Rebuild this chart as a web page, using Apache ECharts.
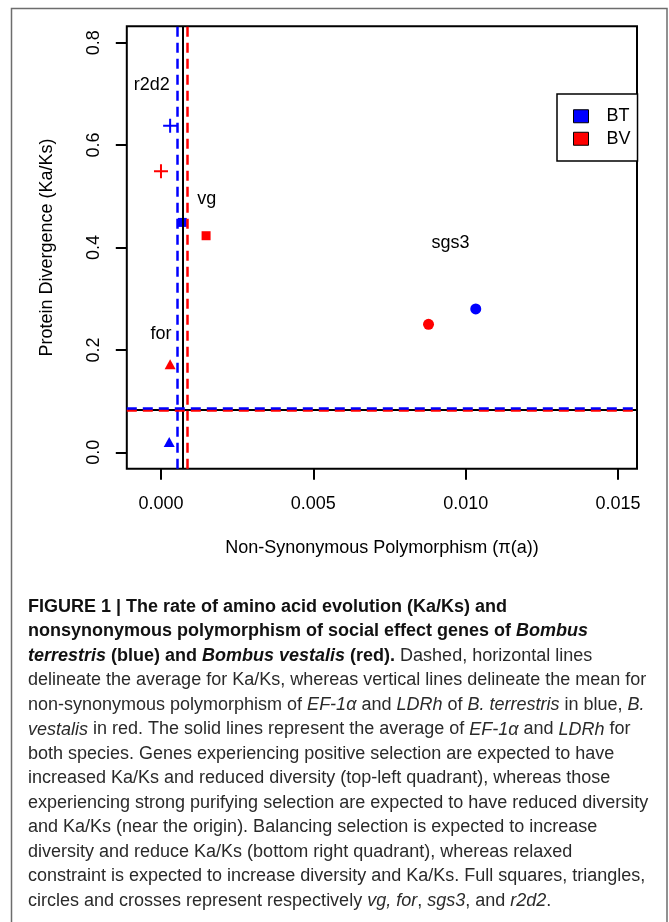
<!DOCTYPE html>
<html><head><meta charset="utf-8">
<script src="https://cdn.jsdelivr.net/npm/echarts@6/dist/echarts.min.js"></script>
<style>html,body{margin:0;padding:0;background:#fff}#c{width:669px;height:922px}</style>
</head><body><div id="c"></div>
<script>
// ---- data ----
const genes = ['vg', 'for', 'sgs3', 'r2d2'];
const btPi   = [0.00070, 0.00027, 0.01033, 0.00030];
const btKaKs = [0.449, 0.020, 0.280, 0.638];
const bvPi   = [0.00148, 0.00030, 0.00878, 0.00000];
const bvKaKs = [0.423, 0.172, 0.250, 0.549];
const labelPi   = [0.0015, 0.0000, 0.0095, -0.0003];
const labelKaKs = [0.495, 0.231, 0.408, 0.717];
const meanPi   = { BT: 0.000535, BV: 0.000864, both: 0.000712 };
const meanKaKs = { BT: 0.0865, BV: 0.0815, both: 0.0840 };
const xTicks = [0, 0.005, 0.010, 0.015];
const yTicks = [0.0, 0.2, 0.4, 0.6, 0.8];
const speciesNames = ['BT', 'BV'];
const xTitle = 'Non-Synonymous Polymorphism (\u03c0(a))';
const yTitle = 'Protein Divergence (Ka/Ks)';
const captionLines = [
  [['b', 'FIGURE 1 | The rate of amino acid evolution (Ka/Ks) and']],
  [['b', 'nonsynonymous polymorphism of social effect genes of '], ['bi', 'Bombus']],
  [['bi', 'terrestris'], ['b', ' (blue) and '], ['bi', 'Bombus vestalis'], ['b', ' (red).'], ['n', ' Dashed, horizontal lines']],
  [['n', 'delineate the average for Ka/Ks, whereas vertical lines delineate the mean for']],
  [['n', 'non-synonymous polymorphism of '], ['i', 'EF-1\u03b1'], ['n', ' and '], ['i', 'LDRh'], ['n', ' of '], ['i', 'B. terrestris'], ['n', ' in blue, '], ['i', 'B.']],
  [['i', 'vestalis'], ['n', ' in red. The solid lines represent the average of '], ['i', 'EF-1\u03b1'], ['n', ' and '], ['i', 'LDRh'], ['n', ' for']],
  [['n', 'both species. Genes experiencing positive selection are expected to have']],
  [['n', 'increased Ka/Ks and reduced diversity (top-left quadrant), whereas those']],
  [['n', 'experiencing strong purifying selection are expected to have reduced diversity']],
  [['n', 'and Ka/Ks (near the origin). Balancing selection is expected to increase']],
  [['n', 'diversity and reduce Ka/Ks (bottom right quadrant), whereas relaxed']],
  [['n', 'constraint is expected to increase diversity and Ka/Ks. Full squares, triangles,']],
  [['n', 'circles and crosses represent respectively '], ['i', 'vg, for'], ['n', ', '], ['i', 'sgs3'], ['n', ', and '], ['i', 'r2d2'], ['n', '.']]
];

// ---- styles ----
const FONT = '"Liberation Sans", Arial, Helvetica, sans-serif';
const BLUE = '#0000ff', RED = '#ff0000';
const CROSS = 'path://M6,0h2v6h6v2h-6v6h-2v-6h-6v-2h6z';
const shape = { vg: 'rect', for: 'triangle', sgs3: 'circle', r2d2: CROSS };
const size  = { vg: 9, for: [11, 10], sgs3: 11, r2d2: 14 };

function pts(xs, ys) {
  return genes.map((g, i) => ({ name: g, value: [xs[i], ys[i]], symbol: shape[g], symbolSize: size[g] }));
}
const dashed = [10, 6];
function vline(v, c, t, w) { return { xAxis: v, lineStyle: { color: c, type: t, width: w, opacity: 1 } }; }
function hline(v, c, t, w) { return { yAxis: v, lineStyle: { color: c, type: t, width: w, opacity: 1 } }; }

const chart = echarts.init(document.getElementById('c'), null, { renderer: 'canvas' });

const caption = captionLines.map((segs, i) => ({
  type: 'text', left: 28, top: 598 + i * 24.5, z: 10,
  style: {
    text: segs.map(s => '{' + s[0] + '|' + s[1] + '}').join(''),
    rich: {
      b:  { fontFamily: FONT, fontSize: 18, fontWeight: 'bold', fill: '#111' },
      bi: { fontFamily: FONT, fontSize: 18, fontWeight: 'bold', fontStyle: 'italic', fill: '#111' },
      n:  { fontFamily: FONT, fontSize: 18, fill: '#2a2a2a' },
      i:  { fontFamily: FONT, fontSize: 18, fontStyle: 'italic', fill: '#2a2a2a' }
    }
  }
}));

chart.setOption({
  animation: false,
  textStyle: { fontFamily: FONT },
  grid: { left: 126.8, right: 32, top: 26.3, bottom: 453.3, show: true, borderColor: '#000', borderWidth: 2, backgroundColor: 'transparent', containLabel: false },
  xAxis: {
    type: 'value', min: -0.001122, max: 0.015622,
    axisLine: { show: false, onZero: false }, splitLine: { show: false },
    axisTick: { show: true, inside: false, customValues: xTicks, length: 11, lineStyle: { color: '#000', width: 2 } },
    axisLabel: { customValues: xTicks, formatter: v => v.toFixed(3), fontSize: 18, color: '#000', margin: 26, fontFamily: FONT },
    name: xTitle, nameLocation: 'middle', nameGap: 70, nameTextStyle: { fontSize: 18, color: '#000', fontFamily: FONT }
  },
  yAxis: {
    type: 'value', min: -0.032, max: 0.832,
    axisLine: { show: false, onZero: false }, splitLine: { show: false },
    axisTick: { show: true, inside: false, customValues: yTicks, length: 11, lineStyle: { color: '#000', width: 2 } },
    axisLabel: { customValues: yTicks, formatter: v => v.toFixed(1), rotate: 90, fontSize: 18, color: '#000', margin: 24, fontFamily: FONT },
    name: yTitle, nameLocation: 'middle', nameGap: 71, nameTextStyle: { fontSize: 18, color: '#000', fontFamily: FONT }
  },
  legend: {
    data: speciesNames, orient: 'vertical', left: 557, top: 94, icon: 'rect',
    itemWidth: 15, itemHeight: 13, itemGap: 0, padding: [11, 7, 11, 16],
    borderColor: '#000', borderWidth: 1.5, borderRadius: 0, backgroundColor: '#fff',
    itemStyle: { borderColor: '#000', borderWidth: 1, opacity: 1 },
    textStyle: { fontSize: 18, color: '#000', lineHeight: 22.5, padding: [0, 0, 0, 13], fontFamily: FONT },
    selectedMode: false
  },
  graphic: [
    { type: 'rect', shape: { x: 11.5, y: 8.5, width: 655.5, height: 940 }, style: { fill: 'none', stroke: '#6d6d6d', lineWidth: 1.5 }, silent: true }
  ].concat(caption),
  series: [
    { name: 'BT', type: 'scatter', itemStyle: { color: BLUE, opacity: 1 }, data: pts(btPi, btKaKs), z: 3 },
    { name: 'BV', type: 'scatter', itemStyle: { color: RED, opacity: 1 }, data: pts(bvPi, bvKaKs), z: 3 },
    {
      name: 'genes', type: 'scatter', symbolSize: 1, itemStyle: { color: 'rgba(0,0,0,0)', opacity: 1 }, z: 4,
      data: genes.map((g, i) => ({ name: g, value: [labelPi[i], labelKaKs[i]] })),
      label: { show: true, position: 'inside', formatter: p => p.name, fontSize: 18, color: '#000', opacity: 1, fontFamily: FONT }
    },
    {
      name: 'means', type: 'scatter', data: [], z: 5,
      markLine: {
        silent: true, precision: 8, symbol: ['none', 'none'], label: { show: false }, animation: false,
        data: [
          vline(meanPi.both, '#000', 'solid', 2),
          hline(meanKaKs.both, '#000', 'solid', 2),
          vline(meanPi.BT, BLUE, dashed, 2.5),
          vline(meanPi.BV, RED, dashed, 2.5),
          hline(meanKaKs.BV, RED, dashed, 2.5),
          hline(meanKaKs.BT, BLUE, dashed, 2.5)
        ]
      }
    }
  ]
});
</script></body></html>
